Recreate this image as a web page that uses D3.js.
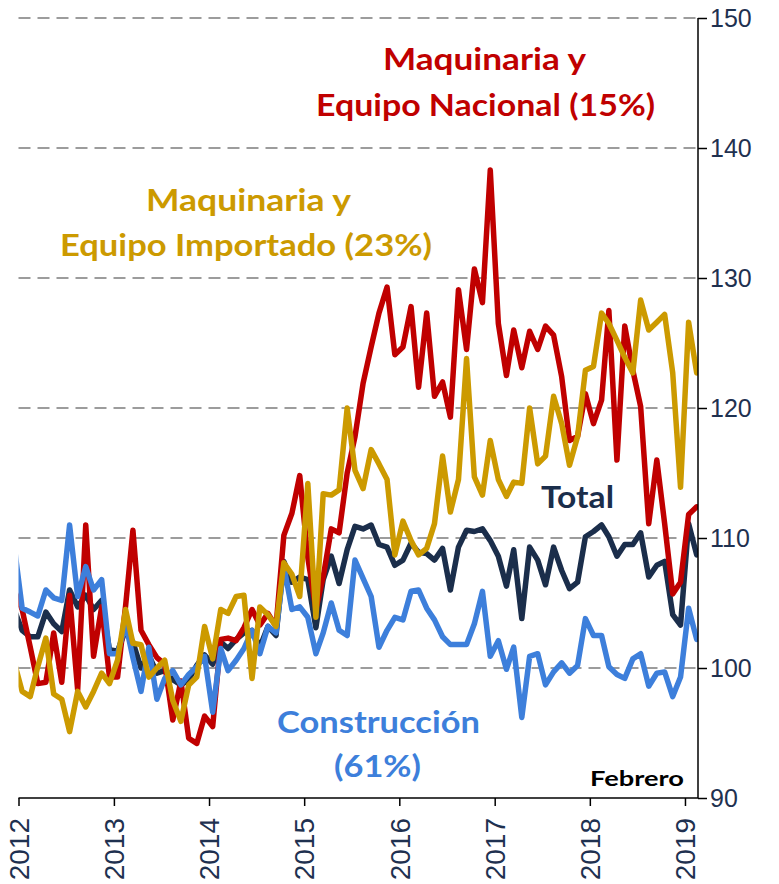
<!DOCTYPE html>
<html>
<head>
<meta charset="utf-8">
<script src="https://cdn.jsdelivr.net/npm/d3@7"></script>
<style>
  body { margin: 0; background: #fff; }
  svg { display: block; }
</style>
</head>
<body>
<div id="chart"></div>
<script>
// monthly index values, Dec 2011 .. Feb 2019 (first point is clipped by the plot area)
const startMonth = new Date(2011, 11, 15);

const nacional = [
  106.0, 104.5, 101.6, 98.8, 98.9, 102.7, 98.9, 105.6, 98.3, 111.0, 100.9, 104.7, 99.3,
  99.3, 104.8, 110.6, 102.9, 101.8, 100.8, 100.3, 96.0, 99.0, 94.6, 94.2, 96.3, 95.5,
  102.2, 102.3, 102.1, 103.1, 104.5, 103.3, 104.2, 103.2, 110.2, 111.9, 114.8, 108.5,
  104.5, 107.0, 110.7, 110.4, 115.0, 117.8, 121.9, 124.7, 127.3, 129.3, 124.1, 124.7,
  127.8, 121.6, 127.3, 120.9, 122.0, 119.3, 129.1, 124.5, 130.7, 128.1, 138.3, 126.5,
  122.5, 126.0, 123.1, 125.9, 124.5, 126.3, 125.6, 122.4, 117.5, 117.8, 121.1, 118.8,
  120.6, 127.5, 116.0, 126.3, 122.9, 120.1, 111.1, 116.0, 111.1, 105.7, 106.6, 111.8, 112.4
];

const importado = [
  100.5, 98.2, 97.8, 100.1, 102.3, 98.0, 97.6, 95.1, 98.2, 97.0, 98.2, 99.6, 98.8,
  100.6, 104.5, 101.9, 101.8, 99.3, 100.0, 100.6, 97.5, 95.9, 98.7, 99.3, 103.2, 100.7,
  104.5, 104.2, 105.5, 105.6, 99.2, 104.7, 104.1, 103.2, 108.1, 107.2, 105.5, 114.2,
  103.9, 113.4, 113.3, 113.7, 120.0, 115.2, 113.8, 116.8, 115.7, 114.5, 108.7, 111.3,
  109.8, 108.7, 109.2, 111.1, 116.3, 112.0, 114.5, 123.8, 114.7, 113.3, 117.5, 114.5,
  113.2, 114.3, 114.2, 120.0, 115.7, 116.3, 120.9, 118.8, 115.6, 117.8, 122.9, 123.2,
  127.3, 126.5, 125.2, 123.9, 122.7, 128.3, 126.0, 126.6, 127.2, 122.7, 113.9, 126.6, 122.7
];

const total = [
  104.5, 102.9, 102.4, 102.4, 104.3, 103.4, 102.8, 106.0, 104.7, 105.6, 104.5, 105.2, 101.4,
  101.3, 102.9, 102.0, 100.0, 101.0, 99.6, 99.8, 99.1, 98.7, 99.1, 100.2, 101.0, 100.3,
  102.0, 101.5, 102.2, 102.7, 102.9, 101.6, 103.2, 102.5, 108.2, 106.6, 107.0, 106.8,
  103.1, 106.8, 108.6, 106.5, 109.1, 110.9, 110.7, 111.0, 109.5, 109.3, 107.9, 108.3,
  109.6, 108.9, 108.8, 108.3, 109.2, 106.0, 109.3, 110.6, 110.5, 110.7, 109.8, 108.6,
  106.3, 109.1, 103.8, 109.3, 108.3, 106.4, 109.3, 107.5, 106.1, 106.6, 110.1, 110.5,
  111.0, 110.1, 108.6, 109.5, 109.5, 110.4, 107.0, 107.9, 108.2, 104.1, 103.3, 111.1, 108.7
];

const construccion = [
  109.5, 104.6, 104.3, 104.0, 106.0, 105.4, 105.2, 111.0, 105.5, 107.8, 106.0, 106.8, 101.1,
  101.1, 103.4, 100.8, 98.2, 101.6, 97.6, 99.2, 99.8, 98.7, 99.5, 100.1, 100.9, 96.6,
  101.5, 99.8, 100.6, 101.5, 102.9, 101.1, 103.2, 102.7, 107.8, 104.5, 104.7, 103.9,
  101.1, 102.7, 105.0, 102.9, 102.5, 108.3, 106.9, 105.5, 101.6, 102.9, 103.9, 103.7,
  105.9, 106.0, 104.6, 103.7, 102.4, 101.8, 101.8, 101.8, 103.4, 105.9, 100.9, 102.1,
  99.9, 101.6, 96.2, 100.9, 101.1, 98.7, 99.7, 100.4, 99.6, 100.2, 103.8, 102.5,
  102.5, 100.1, 99.5, 99.2, 100.7, 101.1, 98.6, 99.6, 99.7, 97.8, 99.3, 104.6, 102.2
];

const yTicks = [90, 100, 110, 120, 130, 140, 150];
const yearTicks = [2012, 2013, 2014, 2015, 2016, 2017, 2018, 2019];

const months = nacional.map((_, i) => new Date(startMonth.getFullYear(), startMonth.getMonth() + i, 15));

const W = 779, H = 884;
const plot = { left: 18.5, right: 698, top: 18, bottom: 798 };

const x = d3.scaleTime()
    .domain([new Date(2012, 0, 1), new Date(2019, 1, 20)])
    .range([plot.left, plot.right]);

const y = d3.scaleLinear()
    .domain([90, 150])
    .range([plot.bottom, plot.top]);

const svg = d3.select("#chart")
    .append("svg")
    .attr("width", W)
    .attr("height", H);

svg.append("defs").append("clipPath")
    .attr("id", "plotClip")
    .append("rect")
    .attr("x", plot.left)
    .attr("y", 0)
    .attr("width", plot.right - plot.left)
    .attr("height", plot.bottom);

// dashed gridlines
svg.append("g")
    .selectAll("line")
    .data(yTicks.filter(d => d > 90))
    .enter().append("line")
    .attr("x1", plot.left)
    .attr("x2", plot.right)
    .attr("y1", d => y(d))
    .attr("y2", d => y(d))
    .attr("stroke", "#9c9c9c")
    .attr("stroke-width", 2)
    .attr("stroke-dasharray", "12,7");

// series
const series = [
    { name: "total", values: total, color: "#1b2e4b" },
    { name: "nacional", values: nacional, color: "#c00000" },
    { name: "construccion", values: construccion, color: "#3d7fdb" },
    { name: "importado", values: importado, color: "#cc9a00" }
];

const line = d3.line()
    .x((d, i) => x(months[i]))
    .y(d => y(d));

svg.append("g")
    .attr("clip-path", "url(#plotClip)")
    .selectAll("path")
    .data(series)
    .enter().append("path")
    .attr("d", d => line(d.values))
    .attr("fill", "none")
    .attr("stroke", d => d.color)
    .attr("stroke-width", 5.5)
    .attr("stroke-linejoin", "round")
    .attr("stroke-linecap", "round");

// x axis
const xAxis = d3.axisBottom(x)
    .tickValues(yearTicks.map(yr => new Date(yr, 0, 1)))
    .tickSize(8)
    .tickFormat(d3.timeFormat("%Y"));

const gx = svg.append("g")
    .attr("transform", `translate(0,${plot.bottom})`)
    .call(xAxis);
gx.select(".domain").attr("stroke", "#000").attr("stroke-width", 1.5)
    .attr("d", `M${plot.left},0H${plot.right}`);
gx.selectAll(".tick line").attr("stroke", "#000").attr("stroke-width", 1.5);
gx.selectAll(".tick text")
    .attr("fill", "#1f3150")
    .style("font-family", "'Liberation Sans', Arial, sans-serif")
    .style("font-size", "28px")
    .attr("text-anchor", "end")
    .attr("dy", "0.35em")
    .attr("transform", "translate(0,20) rotate(-90)")
    .attr("x", 0)
    .attr("y", 0);

// y axis on the right
const yAxis = d3.axisRight(y)
    .tickValues(yTicks)
    .tickSize(9)
    .tickPadding(3);

const gy = svg.append("g")
    .attr("transform", `translate(${plot.right},0)`)
    .call(yAxis);
gy.select(".domain").attr("stroke", "#000").attr("stroke-width", 1.5)
    .attr("d", `M0,${plot.top}V${plot.bottom}`);
gy.selectAll(".tick line").attr("stroke", "#000").attr("stroke-width", 1.5);
gy.selectAll(".tick text")
    .attr("fill", "#1f3150")
    .style("font-family", "'Liberation Sans', Arial, sans-serif")
    .style("font-size", "25px");

// labels
const labels = [
    { text: "Maquinaria y", x: 484.5, y: 70, w: 203, color: "#c00000" },
    { text: "Equipo Nacional (15%)", x: 485.5, y: 116, w: 339, color: "#c00000" },
    { text: "Maquinaria y", x: 248.5, y: 211, w: 205, color: "#cc9a00" },
    { text: "Equipo Importado (23%)", x: 246, y: 256, w: 372, color: "#cc9a00" },
    { text: "Total", x: 577.5, y: 508, w: 73, color: "#1b2e4b" },
    { text: "Construcción", x: 378.5, y: 733, w: 203, color: "#3d7fdb" },
    { text: "(61%)", x: 377.5, y: 777, w: 87, color: "#3d7fdb" }
];

svg.append("g")
    .selectAll("text")
    .data(labels)
    .enter().append("text")
    .attr("x", d => d.x)
    .attr("y", d => d.y)
    .attr("text-anchor", "middle")
    .attr("textLength", d => d.w)
    .attr("lengthAdjust", "spacingAndGlyphs")
    .attr("fill", d => d.color)
    .style("font-family", "Lato, 'Open Sans', sans-serif")
    .style("font-weight", "bold")
    .style("font-size", "31px")
    .text(d => d.text);

svg.append("text")
    .attr("x", 637)
    .attr("y", 786)
    .attr("text-anchor", "middle")
    .attr("textLength", 94)
    .attr("lengthAdjust", "spacingAndGlyphs")
    .attr("fill", "#000")
    .style("font-family", "Lato, 'Open Sans', sans-serif")
    .style("font-weight", "bold")
    .style("font-size", "21px")
    .text("Febrero");
</script>
</body>
</html>
